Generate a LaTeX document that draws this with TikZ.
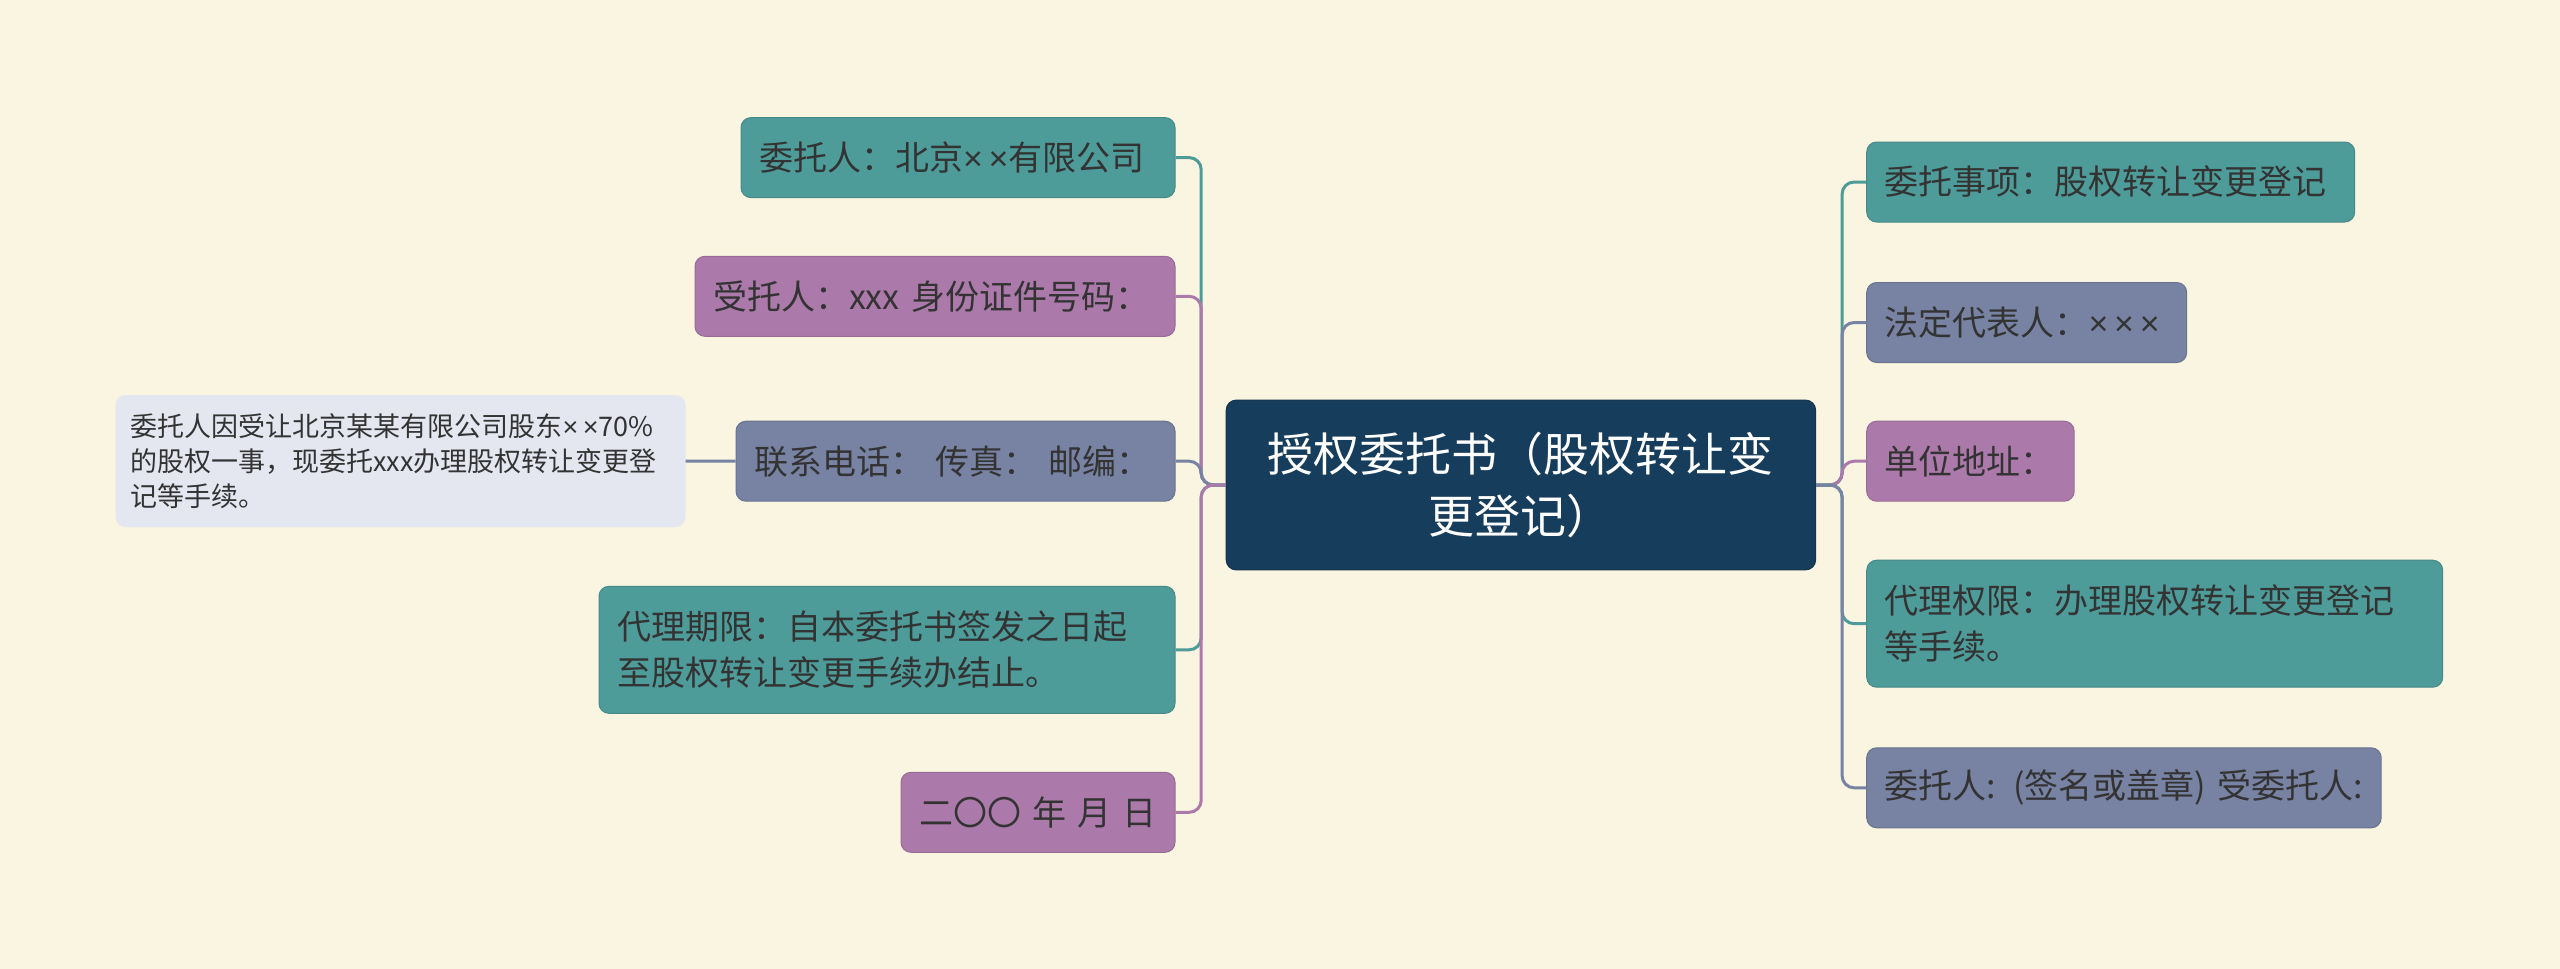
\documentclass[tikz,border=0pt]{standalone}
\usepackage{fontspec}
\setmainfont{Noto Sans CJK SC}
\newfontfamily\xfont{Liberation Sans}
\newcommand{\tms}{{\xfont ×}}
\definecolor{bg}{HTML}{FAF5E1}
\definecolor{cteal}{HTML}{4E9C9A}
\definecolor{cpurple}{HTML}{AC7AAA}
\definecolor{cslate}{HTML}{7883A3}
\definecolor{cnavy}{HTML}{173D5C}
\definecolor{cnote}{HTML}{E4E7EF}
\definecolor{ctext}{HTML}{333333}
\begin{document}
\begin{tikzpicture}[x=1pt,y=-1pt,
  box/.style={rounded corners=10pt, inner xsep=18pt, inner ysep=4pt, align=left, text=ctext,
    font=\fontsize{34}{46}\selectfont, minimum height=80pt, line width=1pt},
  tealbox/.style={box, fill=cteal, draw=cteal!88!black},
  purplebox/.style={box, fill=cpurple, draw=cpurple!88!black},
  slatebox/.style={box, fill=cslate, draw=cslate!88!black},
  notebox/.style={rounded corners=10pt, inner xsep=15pt, inner ysep=4pt, align=left, text=ctext,
    font=\fontsize{27}{35}\selectfont, fill=cnote},
  centerbox/.style={rounded corners=10pt, inner xsep=24.7pt, inner ysep=4pt, align=center, text=white,
    font=\fontsize{46}{62}\selectfont, fill=cnavy, draw=cnavy!85!black, line width=1pt},
  conn/.style={line width=3pt, rounded corners=12pt},
]
\useasboundingbox (0,0) rectangle (2560,969);
\fill[bg] (0,0) rectangle (2560,969);

% center
\node[centerbox, text width=540pt, minimum width=589.4pt, minimum height=169.8pt] (C) at (1520.9,485) {授权委托书（股权转让变\\更登记）};

% left
\node[tealbox, text width=398pt, anchor=east] (L1) at (1175.5,157.6) {委托人：北京\tms\,\tms 有限公司};
\node[purplebox, text width=444pt, anchor=east] (L2) at (1175.5,296.3) {受托人：xxx 身份证件号码：};
\node[slatebox, text width=403pt, anchor=east] (L3) at (1175.5,461.2) {联系电话：\ 传真：\ 邮编：};
\node[notebox, text width=540pt, minimum height=132pt, anchor=east] (N) at (685.7,461) {委托人因受让北京某某有限公司股东\tms\,\tms 70\%\\的股权一事，现委托xxx办理股权转让变更登\\记等手续。};
\node[tealbox, text width=540pt, minimum height=127pt, anchor=east] (L5) at (1175.5,649.8) {代理期限：自本委托书签发之日起\\至股权转让变更手续办结止。};
\node[purplebox, text width=238pt, anchor=east] (L6) at (1175.5,812.3) {二〇〇 年 月 日};

% right
\node[tealbox, text width=452pt, anchor=west] (R1) at (1866.2,182) {委托事项：股权转让变更登记};
\node[slatebox, text width=284pt, anchor=west] (R2) at (1866.2,322.5) {法定代表人：\tms\,\tms\,\tms};
\node[purplebox, text width=171.5pt, anchor=west] (R3) at (1866.2,461.2) {单位地址：};
\node[tealbox, text width=540pt, minimum height=127pt, anchor=west] (R4) at (1866.2,623.7) {代理权限：办理股权转让变更登记\\等手续。};
\node[slatebox, text width=478.5pt, anchor=west] (R5) at (1866.2,787.8) {委托人: (签名或盖章) 受委托人:};

% connectors left
\draw[conn, cteal] (C.west) -- ++(-24.5,0) |- (L1.east);
\draw[conn, cpurple] (C.west) -- ++(-24.5,0) |- (L2.east);
\draw[conn, cslate] (C.west) -- ++(-24.5,0) |- (L3.east);
\draw[conn, cteal] (C.west) -- ++(-24.5,0) |- (L5.east);
\draw[conn, cpurple] (C.west) -- ++(-24.5,0) |- (L6.east);
\draw[conn, cslate] (L3.west) -- (N.east);

% connectors right
\draw[conn, cteal] (C.east) -- ++(26,0) |- (R1.west);
\draw[conn, cslate] (C.east) -- ++(26,0) |- (R2.west);
\draw[conn, cpurple] (C.east) -- ++(26,0) |- (R3.west);
\draw[conn, cteal] (C.east) -- ++(26,0) |- (R4.west);
\draw[conn, cslate] (C.east) -- ++(26,0) |- (R5.west);
\end{tikzpicture}
\end{document}
